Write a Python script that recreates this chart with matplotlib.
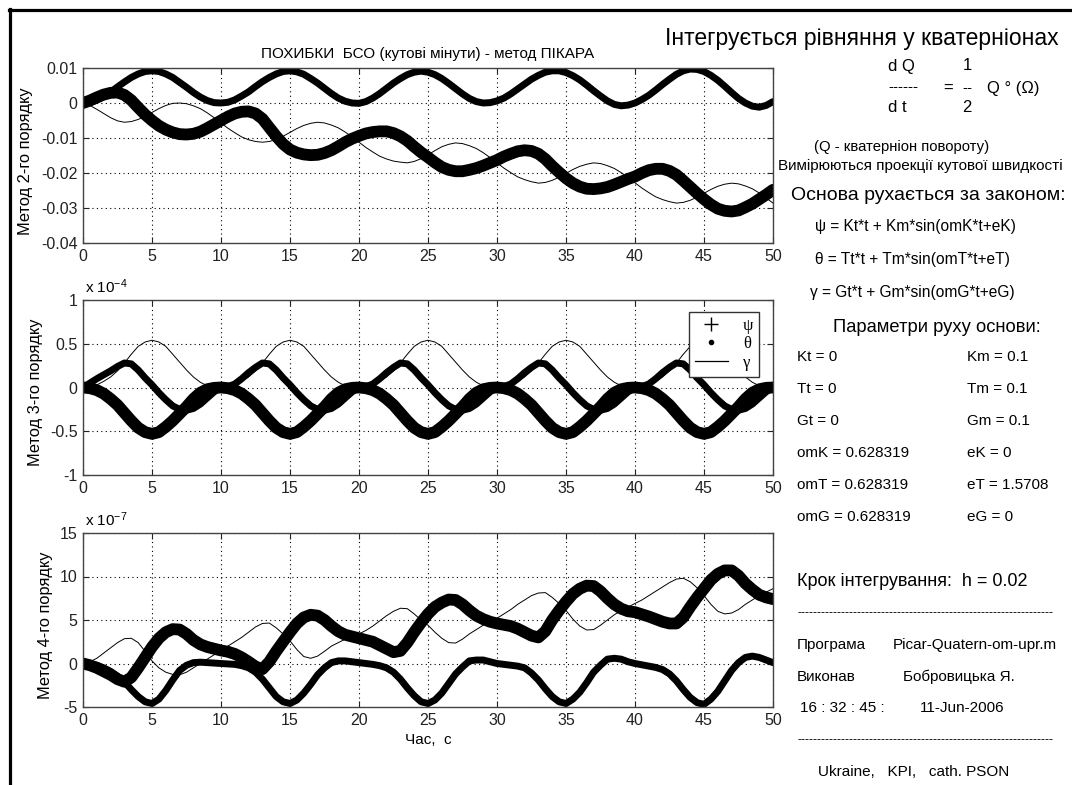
### Похибки БСО (метод Пікара) - три панелі + текстовий блок справа
import numpy as np
import matplotlib
matplotlib.use('Agg')
import matplotlib.pyplot as plt
from matplotlib.lines import Line2D

plt.rcParams['font.family'] = ['Liberation Sans', 'DejaVu Sans']
plt.rcParams['mathtext.default'] = 'regular'
plt.rcParams['axes.unicode_minus'] = False

# час, с (крок відліку 0.5 с)
t_sec = np.arange(0, 101) * 0.5

# метод 2-го порядку (кутові мінути)
top_psi = [0, 0.0007, 0.0016, 0.0024, 0.0029, 0.003, 0.0023, 0.0008, -0.0013, -0.0033,
           -0.005, -0.0065, -0.0076, -0.0084, -0.0089, -0.009, -0.0088, -0.0082, -0.0072, -0.0061,
           -0.005, -0.0039, -0.003, -0.0025, -0.0024, -0.003, -0.0045, -0.007, -0.0095, -0.0117,
           -0.0133, -0.0142, -0.0147, -0.0149, -0.0148, -0.0143, -0.0135, -0.0124, -0.0112, -0.0102,
           -0.0094, -0.0087, -0.0083, -0.0081, -0.0081, -0.0086, -0.0095, -0.0108, -0.0125, -0.0141,
           -0.0155, -0.017, -0.0183, -0.0191, -0.0195, -0.0195, -0.0191, -0.0186, -0.0179, -0.0171,
           -0.0163, -0.0153, -0.0145, -0.0138, -0.0135, -0.0137, -0.0145, -0.016, -0.018, -0.0198,
           -0.0215, -0.0229, -0.0239, -0.0245, -0.0246, -0.0244, -0.024, -0.0233, -0.0225, -0.0217,
           -0.021, -0.02, -0.0192, -0.0188, -0.0188, -0.0194, -0.0205, -0.0222, -0.024, -0.0258,
           -0.0275, -0.029, -0.0302, -0.0308, -0.031, -0.0307, -0.0298, -0.0288, -0.0275, -0.0262,
           -0.0248]
top_theta = [0, 0.0002, 0.0008, 0.0019, 0.0031, 0.0046, 0.006, 0.0073, 0.0083, 0.009,
             0.0092, 0.009, 0.0083, 0.0073, 0.0059, 0.0045, 0.003, 0.0017, 0.0007, 0.0001,
             0.0, 0.0002, 0.0009, 0.002, 0.0032, 0.0047, 0.0061, 0.0073, 0.0083, 0.009,
             0.0092, 0.0089, 0.0082, 0.007, 0.0057, 0.0042, 0.0027, 0.0014, 0.0005, 0.0,
             -0.0001, 0.0004, 0.0014, 0.0027, 0.0042, 0.0057, 0.007, 0.0081, 0.0088, 0.0091,
             0.0088, 0.0081, 0.007, 0.0056, 0.0041, 0.0026, 0.0013, 0.0004, 0.0, 0.0001,
             0.0006, 0.0014, 0.0026, 0.004, 0.0054, 0.0068, 0.0079, 0.0088, 0.0092, 0.0092,
             0.0087, 0.0078, 0.0066, 0.0051, 0.0035, 0.002, 0.0006, -0.0004, -0.0008, -0.0006,
             0.0, 0.001, 0.0022, 0.0037, 0.0053, 0.0068, 0.0082, 0.0092, 0.0097, 0.0096,
             0.009, 0.0079, 0.0065, 0.0048, 0.003, 0.0013, 0.0, -0.0009, -0.0012, -0.0007,
             0.0004]
top_gamma = [0, -0.0007, -0.0018, -0.003, -0.0042, -0.0051, -0.0055, -0.0053, -0.0047, -0.0038,
             -0.0027, -0.0016, -0.0007, -0.0001, 0.0, -0.0002, -0.0008, -0.0016, -0.0028, -0.0042,
             -0.0057, -0.0072, -0.0085, -0.0097, -0.0105, -0.011, -0.0112, -0.011, -0.0104, -0.0095,
             -0.0084, -0.0073, -0.0064, -0.0058, -0.0055, -0.0057, -0.0063, -0.0071, -0.0083, -0.0097,
             -0.0112, -0.0127, -0.014, -0.0152, -0.016, -0.0166, -0.0169, -0.0171, -0.0167, -0.0159,
             -0.0148, -0.0136, -0.0125, -0.0118, -0.0114, -0.0116, -0.0122, -0.013, -0.0142, -0.0156,
             -0.0171, -0.0186, -0.0199, -0.0211, -0.0219, -0.0225, -0.0229, -0.0227, -0.0221, -0.0212,
             -0.0201, -0.019, -0.0181, -0.0175, -0.0171, -0.0173, -0.0179, -0.0187, -0.0199, -0.0213,
             -0.0228, -0.0243, -0.0256, -0.0268, -0.0276, -0.0282, -0.0286, -0.0284, -0.0278, -0.0269,
             -0.0258, -0.0247, -0.0238, -0.0232, -0.0229, -0.0231, -0.0237, -0.0245, -0.0257, -0.0271,
             -0.0286]

# метод 3-го порядку (x 10^-4)
mid_psi = [0, -0.008, -0.03, -0.07, -0.13, -0.2, -0.29, -0.38, -0.46, -0.51,
           -0.53, -0.51, -0.45, -0.38, -0.3, -0.22, -0.13, -0.06, -0.02, -0.004,
           0, -0.008, -0.03, -0.07, -0.13, -0.2, -0.29, -0.38, -0.46, -0.51,
           -0.53, -0.51, -0.45, -0.38, -0.3, -0.22, -0.13, -0.06, -0.02, -0.004,
           0, -0.008, -0.03, -0.07, -0.13, -0.2, -0.29, -0.38, -0.46, -0.51,
           -0.53, -0.51, -0.45, -0.38, -0.3, -0.22, -0.13, -0.06, -0.02, -0.004,
           0, -0.008, -0.03, -0.07, -0.13, -0.2, -0.29, -0.38, -0.46, -0.51,
           -0.53, -0.51, -0.45, -0.38, -0.3, -0.22, -0.13, -0.06, -0.02, -0.004,
           0, -0.008, -0.03, -0.07, -0.13, -0.2, -0.29, -0.38, -0.46, -0.51,
           -0.53, -0.51, -0.45, -0.38, -0.3, -0.22, -0.13, -0.06, -0.02, -0.004,
           0]
mid_theta = [0, 0.05, 0.1, 0.145, 0.19, 0.24, 0.28, 0.27, 0.2, 0.11,
             0.03, -0.06, -0.14, -0.21, -0.25, -0.26, -0.24, -0.19, -0.12, -0.05,
             0, 0.01, 0.04, 0.1, 0.17, 0.23, 0.28, 0.27, 0.2, 0.11,
             0.03, -0.06, -0.14, -0.21, -0.25, -0.26, -0.24, -0.19, -0.12, -0.05,
             0, 0.01, 0.04, 0.1, 0.17, 0.23, 0.28, 0.27, 0.2, 0.11,
             0.03, -0.06, -0.14, -0.21, -0.25, -0.26, -0.24, -0.19, -0.12, -0.05,
             0, 0.01, 0.04, 0.1, 0.17, 0.23, 0.28, 0.27, 0.2, 0.11,
             0.03, -0.06, -0.14, -0.21, -0.25, -0.26, -0.24, -0.19, -0.12, -0.05,
             0, 0.01, 0.04, 0.1, 0.17, 0.23, 0.28, 0.27, 0.2, 0.11,
             0.03, -0.06, -0.14, -0.21, -0.25, -0.26, -0.24, -0.19, -0.12, -0.05,
             0]
mid_gamma = [0, 0.008, 0.03, 0.07, 0.12, 0.19, 0.28, 0.38, 0.47, 0.52,
             0.54, 0.52, 0.47, 0.38, 0.29, 0.2, 0.12, 0.06, 0.02, 0.004,
             0, 0.008, 0.03, 0.07, 0.12, 0.19, 0.28, 0.38, 0.47, 0.52,
             0.54, 0.52, 0.47, 0.38, 0.29, 0.2, 0.12, 0.06, 0.02, 0.004,
             0, 0.008, 0.03, 0.07, 0.12, 0.19, 0.28, 0.38, 0.47, 0.52,
             0.54, 0.52, 0.47, 0.38, 0.29, 0.2, 0.12, 0.06, 0.02, 0.004,
             0, 0.008, 0.03, 0.07, 0.12, 0.19, 0.28, 0.38, 0.47, 0.52,
             0.54, 0.52, 0.47, 0.38, 0.29, 0.2, 0.12, 0.06, 0.02, 0.004,
             0, 0.008, 0.03, 0.07, 0.12, 0.19, 0.28, 0.38, 0.47, 0.52,
             0.54, 0.52, 0.47, 0.38, 0.29, 0.2, 0.12, 0.06, 0.02, 0.004,
             0]

# метод 4-го порядку (x 10^-7)
bot_psi = [0, -0.2, -0.5, -0.9, -1.3, -1.8, -2.1, -1.6, -0.5, 0.7,
           1.9, 2.9, 3.6, 3.95, 3.9, 3.4, 2.7, 2.2, 1.9, 1.7,
           1.5, 1.35, 1.1, 0.7, 0.2, -0.35, -0.65, 0.2, 1.4, 2.5,
           3.6, 4.6, 5.3, 5.6, 5.5, 5.0, 4.3, 3.7, 3.3, 3.1,
           2.9, 2.7, 2.5, 2.1, 1.7, 1.3, 1.45, 2.4, 3.6, 4.7,
           5.7, 6.5, 7.0, 7.35, 7.3, 6.8, 6.1, 5.5, 5.1, 4.8,
           4.6, 4.45, 4.3, 4.0, 3.6, 3.2, 3.0, 3.7, 5.0, 6.1,
           7.1, 8.0, 8.6, 8.95, 8.9, 8.3, 7.5, 6.8, 6.3, 6.0,
           5.9, 5.65, 5.4, 5.1, 4.8, 4.6, 4.6, 5.3, 6.5, 7.6,
           8.6, 9.6, 10.3, 10.7, 10.7, 10.1, 9.2, 8.5, 7.9, 7.6,
           7.4]
bot_theta = [0, -0.05, -0.2, -0.5, -0.9, -1.45, -2.1, -3.0, -3.8, -4.4,
             -4.6, -4.1, -3.1, -1.9, -0.8, -0.2, 0.1, 0.15, 0.1, 0.05,
             0.0, -0.05, -0.1, -0.25, -0.5, -1.0, -1.8, -2.8, -3.8, -4.4,
             -4.6, -4.2, -3.4, -2.4, -1.3, -0.5, 0.1, 0.3, 0.3, 0.2,
             0.1, 0.0, -0.1, -0.25, -0.5, -1.0, -1.8, -2.8, -3.7, -4.4,
             -4.6, -4.2, -3.4, -2.3, -1.2, -0.4, 0.3, 0.4, 0.4, 0.2,
             0.0, -0.1, -0.2, -0.3, -0.5, -1.1, -1.9, -2.9, -3.8, -4.4,
             -4.6, -4.1, -3.3, -2.2, -1.0, -0.2, 0.5, 0.6, 0.5, 0.2,
             0.0, -0.15, -0.3, -0.45, -0.7, -1.2, -2.0, -3.0, -3.9, -4.5,
             -4.7, -4.1, -3.2, -2.0, -0.8, 0.1, 0.7, 0.85, 0.7, 0.4,
             0.1]
bot_gamma = [0, 0.2, 0.6, 1.2, 1.8, 2.4, 2.85, 2.9, 2.4, 1.4,
             0.3, -0.5, -1.0, -1.25, -1.3, -1.0, -0.5, 0.0, 0.5, 1.0,
             1.5, 2.0, 2.5, 3.0, 3.6, 4.2, 4.6, 4.65, 4.1, 3.4,
             2.6, 1.6, 0.8, 0.6, 0.85, 1.4, 2.0, 2.4, 2.8, 3.1,
             3.4, 3.8, 4.3, 4.9, 5.5, 6.0, 6.35, 6.3, 5.7, 5.0,
             4.4, 3.6, 2.9, 2.4, 2.35, 2.8, 3.4, 3.9, 4.4, 4.8,
             5.2, 5.7, 6.2, 6.8, 7.3, 7.8, 8.1, 8.15, 7.6, 6.9,
             6.1, 5.1, 4.3, 3.85, 3.9, 4.4, 5.0, 5.6, 6.1, 6.5,
             6.9, 7.3, 7.8, 8.3, 8.8, 9.3, 9.7, 9.8, 9.4, 8.7,
             7.8, 6.8, 6.0, 5.7, 5.8, 6.2, 6.8, 7.3, 7.8, 8.2,
             8.6]

W, H = 1072, 785
fig = plt.figure(figsize=(W / 100, H / 100), dpi=100)
fig.patch.set_facecolor('white')

# рамка зліва і зверху
fig.add_artist(Line2D([8.5 / W, 1], [1 - 9.5 / H, 1 - 9.5 / H], color='k', lw=2.3, transform=fig.transFigure))
fig.add_artist(Line2D([9.5 / W, 9.5 / W], [0, 1 - 8.5 / H], color='k', lw=2.3, transform=fig.transFigure))


def make_ax(top_px, bottom_px):
    ax = fig.add_axes([83 / W, 1 - bottom_px / H, (773 - 83) / W, (bottom_px - top_px) / H])
    ax.set_xlim(0, 50)
    ax.set_xticks(range(0, 51, 5))
    ax.grid(True, color='k', linestyle=(0, (1, 3)), linewidth=0.8)
    ax.tick_params(direction='in', top=True, right=True, length=4, width=0.8,
                   labelsize=11.5, pad=4, colors='#222222')
    for s in ax.spines.values():
        s.set_color('#444444')
        s.set_linewidth(1.0)
    return ax


def draw(ax, psi, theta, gamma):
    ax.plot(t_sec, theta, color='k', lw=5, solid_joinstyle='round', solid_capstyle='round')
    ax.plot(t_sec, psi, color='k', lw=8.5, solid_joinstyle='round', solid_capstyle='round')
    ax.plot(t_sec, gamma, color='k', lw=0.7)


# верхня панель
ax1 = make_ax(68, 243)
draw(ax1, top_psi, top_theta, top_gamma)
ax1.set_ylim(-0.04, 0.01)
ax1.set_yticks([-0.04, -0.03, -0.02, -0.01, 0, 0.01])
ax1.set_yticklabels(['-0.04', '-0.03', '-0.02', '-0.01', '0', '0.01'])
ax1.set_ylabel('Метод 2-го порядку', fontsize=11.8)
ax1.yaxis.set_label_coords(-0.072, 0.47)
ax1.set_title('ПОХИБКИ  БСО (кутові мінути) - метод ПІКАРА', fontsize=11, pad=7)

# середня панель
ax2 = make_ax(300, 475)
draw(ax2, mid_psi, mid_theta, mid_gamma)
ax2.set_ylim(-1, 1)
ax2.set_yticks([-1, -0.5, 0, 0.5, 1])
ax2.set_yticklabels(['-1', '-0.5', '0', '0.5', '1'])
ax2.set_ylabel('Метод 3-го порядку', fontsize=11.8)
ax2.yaxis.set_label_coords(-0.058, 0.47)
ax2.text(0.003, 1.025, 'x 10$^{-4}$', transform=ax2.transAxes, fontsize=11, va='bottom')
ax2.plot([], [], '+', color='k', ms=10, mew=1.0, label='ψ')
ax2.plot([], [], '.', color='k', ms=6, label='θ')
ax2.plot([], [], '-', color='k', lw=0.9, label='γ')
leg = ax2.legend(loc='upper right', bbox_to_anchor=(0.98, 0.932), fancybox=False,
                 edgecolor='#333333', framealpha=1, handlelength=2.0, handletextpad=0.9,
                 borderpad=0.35, labelspacing=0.15, borderaxespad=0,
                 prop={'family': 'Liberation Serif', 'size': 12})
leg.get_frame().set_linewidth(1.0)

# нижня панель
ax3 = make_ax(533, 707)
draw(ax3, bot_psi, bot_theta, bot_gamma)
ax3.set_ylim(-5, 15)
ax3.set_yticks([-5, 0, 5, 10, 15])
ax3.set_yticklabels(['-5', '0', '5', '10', '15'])
ax3.set_ylabel('Метод 4-го порядку', fontsize=11.8)
ax3.yaxis.set_label_coords(-0.044, 0.47)
ax3.text(0.003, 1.025, 'x 10$^{-7}$', transform=ax3.transAxes, fontsize=11, va='bottom')
ax3.set_xlabel('Час,  с', fontsize=11)
ax3.xaxis.set_label_coords(0.5, -0.15)


# текстовий блок справа (координати в пікселях)
def ft(x, y, s, size=11, ha='left', **kw):
    fig.text(x / W, 1 - y / H, s, fontsize=size, ha=ha, va='center', **kw)


ft(862, 38, 'Інтегрується рівняння у кватерніонах', size=16.5, ha='center')
ft(888, 66, 'd Q', size=12)
ft(967, 66, '1', size=12, ha='center')
ft(888, 87, '------', size=11)
ft(943, 88, '=', size=12)
ft(962, 88, '--', size=11)
ft(987, 88, 'Q ° (Ω)', size=12)
ft(888, 107, 'd t', size=12)
ft(967, 107, '2', size=12, ha='center')
ft(902, 147, '(Q - кватерніон повороту)', size=10.7, ha='center')
ft(920, 166, 'Вимірюються проекції кутової швидкості', size=11, ha='center')
ft(928, 195, 'Основа рухається за законом:', size=14, ha='center')
ft(815, 227, 'ψ = Kt*t + Km*sin(omK*t+eK)', size=11.2)
ft(815, 260, 'θ = Tt*t + Tm*sin(omT*t+eT)', size=11.2)
ft(810, 293, 'γ = Gt*t + Gm*sin(omG*t+eG)', size=11.2)
ft(937, 328, 'Параметри руху основи:', size=13.2, ha='center')

params_left = ['Kt = 0', 'Tt = 0', 'Gt = 0', 'omK = 0.628319', 'omT = 0.628319', 'omG = 0.628319']
params_right = ['Km = 0.1', 'Tm = 0.1', 'Gm = 0.1', 'eK = 0', 'eT = 1.5708', 'eG = 0']
for i, (a, b) in enumerate(zip(params_left, params_right)):
    y = 357 + i * 32
    ft(797, y, a, size=11)
    ft(967, y, b, size=11)

ft(797, 582, 'Крок інтегрування:  h = 0.02', size=13)
ft(797, 613, '-' * 64, size=9)
ft(797, 645, 'Програма', size=11)
ft(893, 645, 'Picar-Quatern-om-upr.m', size=11)
ft(797, 677, 'Виконав', size=11)
ft(903, 677, 'Бобровицька Я.', size=11)
ft(800, 708, '16 : 32 : 45 :', size=11)
ft(920, 708, '11-Jun-2006', size=11)
ft(797, 740, '-' * 64, size=9)
ft(914, 772, 'Ukraine,   KPI,   cath. PSON', size=11, ha='center')

fig.savefig('out.png', dpi=100, facecolor='white')
